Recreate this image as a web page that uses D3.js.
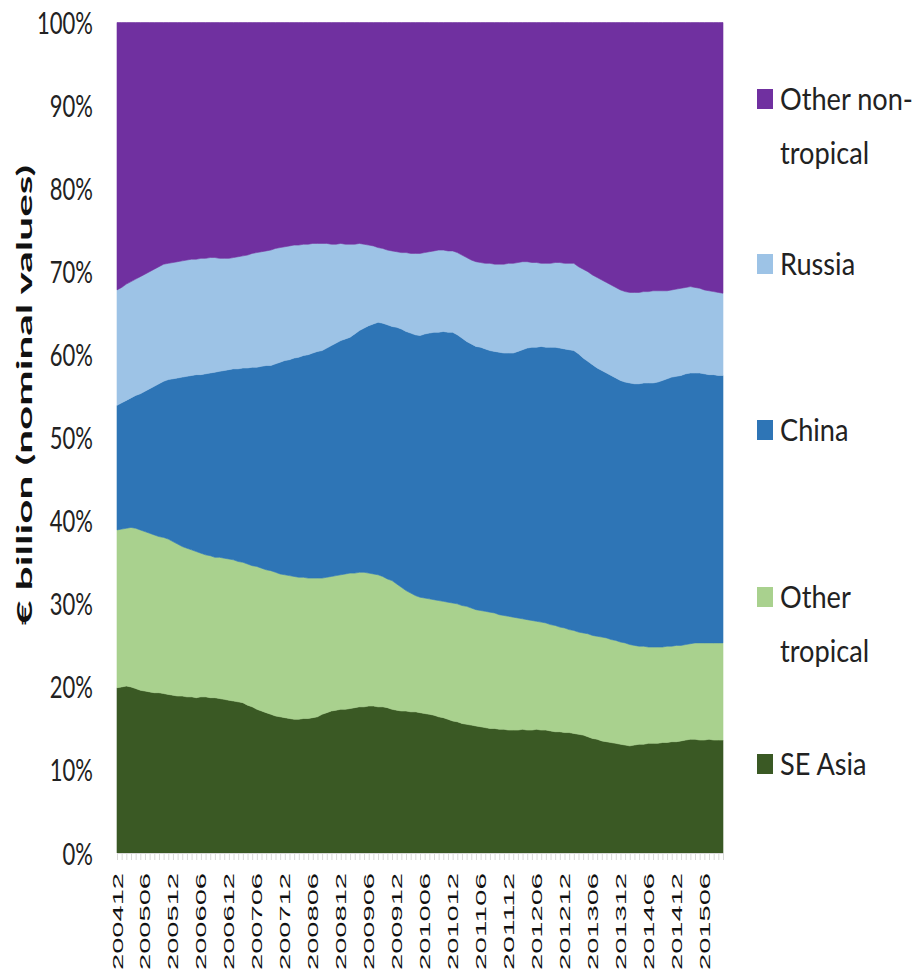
<!DOCTYPE html>
<html>
<head>
<meta charset="utf-8">
<script src="https://cdn.jsdelivr.net/npm/d3@7"></script>
<style>
  body { margin: 0; background: #fff; }
  svg { display: block; }
</style>
</head>
<body>
<svg id="chart" width="913" height="975"></svg>
<script>
// Monthly shares (%) of imports by origin, Dec 2004 onwards
const seriesNames = ["SE Asia", "Other tropical", "China", "Russia", "Other non-tropical"];
const seriesColors = ["#3a5924", "#a9d18e", "#2e75b6", "#9dc3e6", "#7030a0"];

const seAsia = [19.9,20.0,20.1,20.0,19.8,19.6,19.5,19.4,19.3,19.3,
19.2,19.1,19.0,18.9,18.9,18.8,18.8,18.7,18.8,18.8,
18.7,18.7,18.6,18.5,18.4,18.3,18.2,18.1,17.8,17.6,
17.3,17.1,16.9,16.7,16.5,16.4,16.3,16.2,16.1,16.1,
16.2,16.2,16.3,16.4,16.7,16.9,17.1,17.2,17.3,17.3,
17.4,17.5,17.6,17.6,17.7,17.7,17.6,17.6,17.5,17.3,
17.2,17.1,17.1,17.0,17.0,16.9,16.8,16.7,16.6,16.4,
16.3,16.1,15.9,15.8,15.6,15.5,15.4,15.3,15.2,15.1,
15.0,15.0,14.9,14.9,14.8,14.8,14.8,14.9,14.8,14.8,
14.9,14.8,14.8,14.7,14.6,14.6,14.5,14.5,14.4,14.3,
14.2,14.0,13.8,13.7,13.5,13.4,13.3,13.2,13.1,13.0,
12.9,13.0,13.1,13.1,13.2,13.2,13.2,13.3,13.3,13.4,
13.4,13.5,13.6,13.7,13.7,13.6,13.6,13.7,13.6,13.6,
13.6];

const otherTropical = [19.0,19.0,19.0,19.2,19.3,19.3,19.2,19.1,19.0,18.8,
18.8,18.7,18.5,18.3,18.0,17.9,17.7,17.6,17.3,17.1,
17.1,16.9,17.0,17.0,17.0,17.0,16.9,16.9,17.0,17.0,
17.2,17.2,17.2,17.3,17.3,17.2,17.2,17.2,17.2,17.1,
17.0,16.9,16.8,16.7,16.4,16.3,16.2,16.2,16.2,16.3,
16.3,16.2,16.2,16.2,16.0,15.9,15.9,15.7,15.5,15.5,
15.2,14.9,14.5,14.3,14.0,13.9,13.9,13.9,13.9,14.0,
14.0,14.1,14.2,14.2,14.2,14.2,14.1,14.0,14.0,14.0,
14.0,13.9,13.8,13.7,13.7,13.6,13.5,13.3,13.3,13.2,
13.0,13.0,12.9,12.8,12.8,12.6,12.6,12.4,12.4,12.3,
12.3,12.4,12.4,12.4,12.5,12.5,12.4,12.4,12.3,12.3,
12.2,12.0,11.8,11.8,11.6,11.6,11.6,11.5,11.6,11.5,
11.6,11.5,11.5,11.5,11.6,11.7,11.7,11.6,11.7,11.7,
11.7];

const china = [15.0,15.2,15.4,15.6,16.0,16.4,16.9,17.4,17.9,18.4,
18.8,19.2,19.6,20.0,20.4,20.7,21.0,21.3,21.5,21.8,
22.0,22.3,22.4,22.6,22.8,23.0,23.2,23.4,23.6,23.9,
24.0,24.3,24.6,24.7,25.1,25.5,25.8,26.0,26.3,26.5,
26.7,26.9,27.1,27.3,27.4,27.6,27.8,28.0,28.2,28.3,
28.4,28.8,29.1,29.4,29.8,30.1,30.4,30.5,30.6,30.6,
30.9,31.1,31.2,31.3,31.4,31.5,31.8,32.0,32.2,32.3,
32.5,32.5,32.6,32.4,32.2,31.9,31.8,31.7,31.7,31.6,
31.5,31.5,31.6,31.6,31.7,31.8,32.1,32.4,32.7,32.9,
33.0,33.2,33.2,33.4,33.5,33.6,33.6,33.7,33.7,33.5,
33.1,32.8,32.6,32.3,32.1,31.9,31.8,31.6,31.5,31.4,
31.5,31.5,31.6,31.7,31.8,31.8,31.9,32.1,32.2,32.4,
32.4,32.5,32.6,32.6,32.5,32.5,32.4,32.3,32.3,32.2,
32.2];

const russia = [13.9,13.9,14.0,14.0,14.0,14.1,14.1,14.1,14.1,14.1,
14.1,14.0,14.0,14.0,14.0,14.0,14.0,13.9,14.0,13.9,
13.9,13.8,13.6,13.5,13.4,13.4,13.5,13.5,13.6,13.7,
13.8,13.8,13.8,13.9,13.9,13.8,13.7,13.7,13.6,13.5,
13.4,13.3,13.2,13.0,12.9,12.6,12.2,11.9,11.7,11.4,
11.2,10.8,10.5,10.1,9.7,9.4,9.0,9.0,9.0,9.1,
9.1,9.2,9.5,9.6,9.8,9.9,9.8,9.8,9.8,9.9,
9.8,9.8,9.8,9.9,10.0,10.1,10.1,10.2,10.2,10.3,
10.5,10.5,10.6,10.7,10.8,10.8,10.7,10.6,10.4,10.2,
10.2,10.0,10.1,10.1,10.2,10.3,10.3,10.4,10.5,10.5,
10.7,10.8,10.8,10.9,10.9,10.9,10.9,10.9,10.9,10.9,
10.9,11.0,11.0,11.0,11.0,11.1,11.0,10.8,10.6,10.5,
10.5,10.5,10.4,10.4,10.3,10.2,10.1,10.1,10.0,10.0,
9.9];

const otherNonTropical = [32.2,31.9,31.5,31.2,30.9,30.6,30.3,30.0,29.7,29.4,
29.1,29.0,28.9,28.8,28.7,28.6,28.5,28.5,28.4,28.4,
28.3,28.3,28.4,28.4,28.4,28.3,28.2,28.1,28.0,27.8,
27.7,27.6,27.5,27.4,27.2,27.1,27.0,26.9,26.8,26.8,
26.7,26.7,26.6,26.6,26.6,26.6,26.7,26.7,26.6,26.7,
26.7,26.7,26.6,26.7,26.8,26.9,27.1,27.2,27.4,27.5,
27.6,27.7,27.7,27.8,27.8,27.8,27.7,27.6,27.5,27.4,
27.4,27.5,27.5,27.7,28.0,28.3,28.6,28.8,28.9,29.0,
29.0,29.1,29.1,29.1,29.0,29.0,28.9,28.8,28.8,28.9,
28.9,29.0,29.0,29.0,28.9,28.9,29.0,29.0,29.0,29.4,
29.7,30.0,30.4,30.7,31.0,31.3,31.6,31.9,32.2,32.4,
32.5,32.5,32.5,32.4,32.4,32.3,32.3,32.3,32.3,32.2,
32.1,32.0,31.9,31.8,31.9,32.0,32.2,32.3,32.4,32.5,
32.6];

// Category labels shown on the month axis (every sixth month)
const tickLabels = ["200412","200506","200512","200606","200612","200706","200712",
  "200806","200812","200906","200912","201006","201012","201106","201112",
  "201206","201212","201306","201312","201406","201412","201506"];
const yTickValues = [0,0.1,0.2,0.3,0.4,0.5,0.6,0.7,0.8,0.9,1.0];

// Month categories as YYYYMM strings
const months = seAsia.map((_, i) => {
  const m = 11 + i;                 // months since Jan 2004
  const yr = 2004 + Math.floor(m / 12);
  const mo = (m % 12) + 1;
  return String(yr) + String(mo).padStart(2, "0");
});

const seriesValues = [seAsia, otherTropical, china, russia, otherNonTropical];
const rows = months.map((m, i) => {
  const r = { month: m };
  seriesNames.forEach((n, k) => { r[n] = seriesValues[k][i]; });
  return r;
});

const svg = d3.select("#chart");
const plot = { left: 117, right: 723, top: 22.5, bottom: 853 };

const x = d3.scaleLinear().domain([0, months.length - 1]).range([plot.left, plot.right]);
const y = d3.scaleLinear().domain([0, 1]).range([plot.bottom, plot.top]);

const stacked = d3.stack().keys(seriesNames).offset(d3.stackOffsetExpand)(rows);

const area = d3.area()
  .x((d, i) => x(i))
  .y0(d => y(d[0]))
  .y1(d => y(d[1]));

svg.append("g").selectAll("path")
  .data(stacked)
  .join("path")
  .attr("d", area)
  .attr("fill", (d, k) => seriesColors[k])
  .attr("stroke", (d, k) => seriesColors[k])
  .attr("stroke-width", 0.6);

// Month axis: faint tick for every month
const xAxisTicks = svg.append("g")
  .attr("transform", `translate(0,${plot.bottom})`)
  .call(d3.axisBottom(x).tickValues(d3.range(months.length)).tickSize(7).tickFormat(""));
xAxisTicks.select(".domain").attr("stroke", "#d9d9d9");
xAxisTicks.selectAll(".tick line").attr("stroke", "#d9d9d9");

// Month labels, rotated
const labelIdx = tickLabels.map(t => months.indexOf(t));
svg.append("g").selectAll("text")
  .data(labelIdx)
  .join("text")
  .attr("transform", i => `translate(${x(i) + 5.5},873) rotate(-90)`)
  .attr("text-anchor", "end")
  .attr("font-family", "'Liberation Sans', Arial, sans-serif")
  .attr("font-size", 15)
  .attr("fill", "#111")
  .attr("textLength", 97)
  .attr("lengthAdjust", "spacingAndGlyphs")
  .text(i => months[i]);

// Percentage axis
const yAxis = svg.append("g")
  .attr("transform", `translate(${plot.left},0)`)
  .call(d3.axisLeft(y).tickValues(yTickValues).tickFormat(d3.format(".0%")).tickSize(0));
yAxis.select(".domain").remove();
const yTexts = yAxis.selectAll(".tick text")
  .attr("font-family", "Lato, 'Open Sans', sans-serif")
  .attr("font-size", 30)
  .attr("fill", "#222")
  .attr("x", 0).attr("dy", 0)
  .attr("text-anchor", "end");
const w100 = yTexts.filter(d => d === 1).node().getComputedTextLength();
const sxY = 56 / w100;
yTexts.attr("transform", `translate(-24,11) scale(${sxY},1)`);

// Axis title
svg.append("text")
  .attr("transform", "translate(32,625) rotate(-90)")
  .attr("font-family", "Lato, 'Open Sans', sans-serif")
  .attr("font-weight", "bold")
  .attr("font-size", 21)
  .attr("fill", "#111")
  .attr("textLength", 460)
  .attr("lengthAdjust", "spacingAndGlyphs")
  .text("€ billion (nominal values)");

// Legend (top entry = top layer)
const legendItems = [
  { k: 4, lines: ["Other non-", "tropical"], base: 110 },
  { k: 3, lines: ["Russia"], base: 275 },
  { k: 2, lines: ["China"], base: 441 },
  { k: 1, lines: ["Other", "tropical"], base: 608 },
  { k: 0, lines: ["SE Asia"], base: 775 }
];
const legend = svg.append("g");
const lg = legend.selectAll("g").data(legendItems).join("g");
lg.append("rect")
  .attr("x", 757).attr("y", d => d.base - 21)
  .attr("width", 16).attr("height", 20)
  .attr("fill", d => seriesColors[d.k]);
const legendTexts = lg.selectAll("text")
  .data(d => d.lines.map((t, j) => ({ t, y: d.base + j * 54 })))
  .join("text")
  .attr("font-family", "Lato, 'Open Sans', sans-serif")
  .attr("font-size", 30)
  .attr("fill", "#222")
  .text(d => d.t);
const wRef = legendTexts.filter(d => d.t === "Other non-").node().getComputedTextLength();
const sxL = 133 / wRef;
legendTexts.attr("transform", d => `translate(780,${d.y}) scale(${sxL},1)`);
</script>
</body>
</html>
